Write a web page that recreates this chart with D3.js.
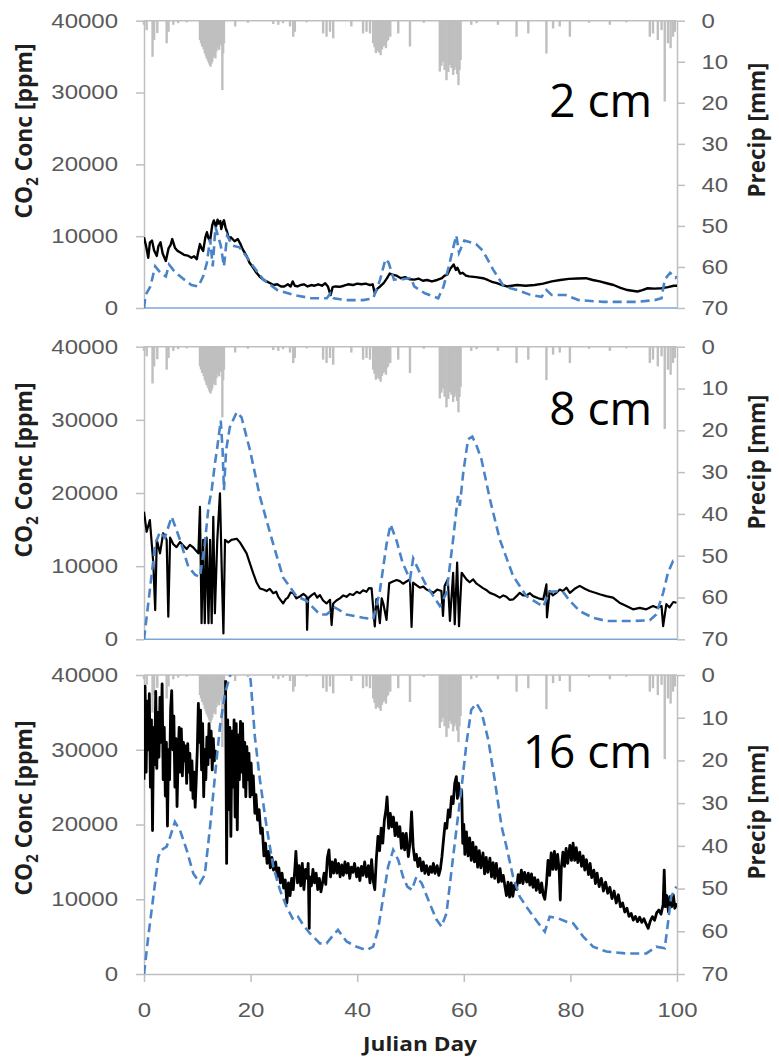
<!DOCTYPE html>
<html>
<head>
<meta charset="utf-8">
<script src="https://cdnjs.cloudflare.com/ajax/libs/d3/7.8.5/d3.min.js"></script>
<style>
body { margin: 0; background: #fff; }
svg { display: block; font-family: "Open Sans", sans-serif; }
.axis path, .axis line { stroke: #bfbfbf; stroke-width: 1.5; }
.axis .tick text { fill: #595959; font-size: 20px; }
.title { fill: #1f1f1f; font-size: 20px; font-weight: bold; }
.depth { fill: #000; font-size: 46px; }
</style>
</head>
<body>
<svg id="chart" width="779" height="1058"></svg>
<script>
// ---- data ----
const co2Ticks = [0, 10000, 20000, 30000, 40000];
const precipTicks = [0, 10, 20, 30, 40, 50, 60, 70];
const dayTicks = [0, 20, 40, 60, 80, 100];
const depthLabels = ['2 cm', '8 cm', '16 cm'];

// [julian day, precip mm]
const precip = [[0.0,1.0],[0.5,2.3],[1.6,8.8],[1.9,4.7],[2.5,3.0],[4.25,5.5],[4.6,2.7],[5.5,1.0],[6.4,0.6],[8.0,0.4],
  [10.5,4.7],[10.7,5.5],[10.9,6.3],[11.2,7.0],[11.4,7.9],[11.6,8.5],[11.75,9.2],[12.0,9.8],[12.2,10.4],[12.35,10.8],[12.5,11.2],
  [12.65,10.5],[12.8,10.0],[12.95,9.0],[13.1,7.9],[13.25,8.5],[13.4,9.2],[13.6,7.5],[13.75,5.5],[13.9,6.5],[14.1,7.1],[14.4,6.0],
  [14.7,16.9],[14.85,8.0],[15.0,5.5],[17.1,1.4],[19.5,0.5],[24.25,0.8],[25.2,1.0],[26.1,0.6],[27.4,1.4],[28.0,3.9],[28.3,2.7],
  [30.5,0.4],[33.6,3.1],[34.25,3.9],[34.9,2.7],[35.5,4.3],[38.9,1.4],[41.1,3.1],[41.75,2.7],[42.4,3.1],[43.0,5.5],[43.25,6.5],
  [43.5,7.9],[43.7,7.5],[43.9,7.1],[44.15,7.8],[44.4,8.4],[44.65,7.0],[44.9,6.3],[45.15,6.0],[45.4,6.7],[45.6,5.0],[45.8,4.7],
  [46.2,3.9],[47.7,3.1],[49.9,6.3],[52.5,0.5],[55.5,12.4],[55.8,11.0],[56.1,10.0],[56.4,12.0],[56.75,14.5],[57.1,12.5],[57.4,10.8],
  [57.7,11.5],[58.0,13.2],[58.25,12.0],[58.5,11.2],[58.75,13.0],[59.0,15.7],[59.2,12.0],[59.4,9.6],[61.4,1.0],[62.4,0.6],[66.4,1.0],
  [69.9,3.9],[72.1,3.1],[75.5,8.0],[76.75,1.9],[78.0,1.4],[79.9,3.9],[83.5,0.5],[87.4,1.0],[90.5,0.4],[94.9,3.9],[95.5,3.1],
  [96.4,4.7],[97.1,2.3],[97.7,19.7],[98.3,5.5],[98.8,6.7],[99.25,3.9],[99.6,2.7]];

// [julian day, CO2 ppm]  observed (black) and modelled (blue dashed)
const obs2 = [[0,9860],[0.4,8600],[0.8,7000],[1.1,9100],[1.5,9400],[1.9,8000],[2.4,7250],[2.7,8600],[3.1,9150],[3.5,7600],
  [4.1,6550],[4.6,8300],[5.0,8800],[5.3,9600],[5.8,8400],[6.3,7950],[6.9,7700],[7.5,7400],[8.2,7300],[8.9,7000],[9.4,7200],
  [9.9,6800],[10.2,7900],[10.5,8900],[10.8,8300],[11.1,7950],[11.5,9800],[11.8,10550],[12.1,9700],[12.4,9400],[12.8,11500],
  [13.1,12200],[13.5,11300],[13.8,12300],[14.0,11750],[14.3,12100],[14.5,11000],[14.8,11900],[15.0,12200],[15.3,11200],
  [15.6,10550],[16.0,9500],[16.3,9850],[17.0,9300],[17.6,9600],[18.1,8900],[18.5,8200],[19.2,7300],[19.8,6300],[20.4,5700],
  [21.1,4900],[21.8,4300],[22.4,3950],[23.0,3700],[23.7,3450],[24.3,3200],[25.0,3300],[25.7,3000],[26.3,3000],[27.0,3300],
  [27.5,3000],[27.9,3700],[28.3,3100],[28.8,3000],[29.4,3200],[30.0,3300],[30.7,3000],[31.4,3200],[32.0,3100],[32.7,3300],
  [33.4,3100],[34.0,3450],[34.5,3000],[35.0,1800],[35.4,2900],[35.9,3000],[36.7,2950],[37.5,3100],[38.3,3300],[39.2,3200],
  [40.0,3400],[40.8,3300],[41.6,3400],[42.4,3200],[42.9,3300],[43.3,2050],[43.8,2700],[44.3,3000],[45.0,3500],[45.6,4150],
  [46.1,4800],[46.6,4650],[47.4,4500],[48.2,4150],[49.0,4300],[49.8,4000],[50.7,3950],[51.5,4100],[52.3,3800],[53.1,3900],
  [54.0,3700],[55.0,3900],[55.9,4150],[56.4,4500],[56.9,4650],[57.5,5500],[58.1,6050],[58.5,5300],[58.8,5600],[59.3,4800],
  [59.8,4900],[60.4,4500],[61.0,4400],[62.3,4300],[63.6,4150],[64.5,3900],[65.3,3650],[66.2,3450],[67.2,3200],[68.1,3000],
  [69.0,3100],[70.0,3200],[71.6,3100],[73.3,3200],[74.9,3400],[76.5,3700],[78.1,3900],[79.7,4050],[81.3,4100],[82.9,4150],
  [84.2,3900],[85.5,3700],[86.8,3450],[88.1,3200],[89.4,2800],[90.7,2500],[91.6,2400],[92.6,2300],[93.5,2500],[94.5,2750],
  [95.8,2700],[97.1,2750],[98.3,2900],[99.4,3100],[100,3100]];
const mod2 = [[0,0],[0.3,1800],[1.2,3000],[2.1,5800],[3.1,4900],[4.1,4400],[4.7,6050],[5.7,5100],[7.3,4100],[8.9,3200],
  [10.2,3000],[11.1,4400],[11.8,6300],[12.4,9600],[12.9,5800],[13.4,11300],[14.4,8700],[15.0,5800],[15.6,10100],[16.6,8700],
  [17.9,8450],[19.2,7200],[20.5,5800],[22.4,3950],[25.0,2500],[28.2,1800],[31.4,1350],[34.3,1350],[35.0,2050],[35.6,1350],
  [37.9,1100],[41.1,1100],[43.0,1350],[44.3,3950],[45.3,6800],[45.9,6300],[46.9,3950],[48.5,4000],[50.1,4200],[50.7,3000],
  [52.7,2050],[55.2,1350],[56.2,3000],[57.2,5800],[58.1,8650],[58.6,10100],[59.1,7700],[60.1,9400],[62.3,8900],[63.6,7950],
  [65.5,5350],[67.5,3000],[70.0,2500],[72.6,1800],[74.6,1550],[75.5,2500],[76.5,1800],[79.1,1800],[81.6,1100],[86.2,850],
  [92.6,850],[95.8,1100],[97.1,1350],[97.7,3950],[98.7,4900],[99.7,4200],[100,4400]];

const obs8 = [[0,17450],[0.5,14700],[1.1,16300],[1.75,10400],[2.1,4000],[2.4,13600],[3.0,11750],[3.6,14500],[4.25,13600],
  [4.56,3100],[4.9,13900],[5.5,13000],[6.1,12600],[6.75,13300],[7.4,12800],[8.0,12350],[8.6,12900],[9.25,12550],[10.2,11750],
  [10.5,18100],[10.8,2200],[11.1,13600],[11.4,2200],[11.75,13900],[12.1,2200],[12.4,13600],[12.7,2200],[13.0,16750],[13.3,3550],
  [13.75,13600],[14.25,19950],[14.6,9000],[14.9,800],[15.2,13600],[15.8,13250],[16.4,13600],[17.4,13750],[18.0,13250],
  [19.25,11750],[19.9,10300],[20.5,9000],[21.1,7800],[21.75,6950],[22.4,6800],[23.0,6600],[23.6,6900],[24.25,6300],[24.8,6500],
  [25.2,5800],[25.7,5300],[26.1,4900],[26.6,5500],[27.0,5700],[27.5,6400],[28.0,6300],[28.6,5600],[29.25,5850],[29.9,6200],
  [30.5,5850],[30.6,1300],[30.8,5600],[31.4,6000],[32.0,6300],[32.5,5700],[33.0,6050],[33.6,5300],[34.25,4900],[34.9,5400],
  [35.2,1950],[35.5,4900],[36.1,5300],[36.75,5600],[37.4,6000],[38.0,5800],[38.6,6200],[39.25,6050],[39.9,6500],[40.5,6300],
  [41.1,6700],[41.75,6500],[42.2,7000],[42.7,6950],[43.3,1750],[43.6,5500],[43.9,4450],[44.25,2200],[44.6,5600],[44.9,4900],
  [45.5,2650],[46.0,7650],[46.7,7900],[47.4,8100],[48.0,7950],[48.6,7600],[49.25,7900],[49.9,8200],[50.2,1700],[50.5,7750],
  [51.1,7400],[51.75,7050],[52.4,7200],[53.0,6800],[53.6,6600],[54.3,6350],[55.0,6800],[55.8,6600],[56.1,3200],[56.4,7300],
  [57.0,8200],[57.4,2500],[58.0,9100],[58.3,2050],[58.75,10500],[59.1,1800],[59.6,9100],[60.5,8200],[61.1,7800],[61.75,8200],
  [62.4,7600],[63.0,7300],[63.6,7000],[64.3,6700],[64.9,6350],[65.8,6100],[66.75,5700],[67.4,6000],[68.0,5800],[68.6,5400],
  [69.25,5450],[69.9,5900],[70.5,6350],[71.1,6000],[71.75,6000],[72.4,6300],[73.0,5900],[74.0,5600],[74.9,5450],[75.5,7500],
  [75.6,3000],[76.1,6600],[76.7,6000],[77.3,6300],[78.0,6800],[78.6,6600],[79.25,7050],[79.9,6350],[80.8,6900],[81.75,7300],
  [82.7,6900],[83.6,6600],[84.5,6400],[85.5,6150],[86.7,5900],[88.0,5700],[89.2,5000],[90.5,4550],[91.75,4100],[93.0,4300],
  [94.25,4100],[95.5,4550],[96.3,4300],[97.1,4550],[97.4,1800],[98.0,4800],[98.6,4350],[99.3,5100],[99.9,5000]];
const mod8 = [[0,0],[1.1,6750],[2.1,13000],[3.0,14700],[3.9,13900],[5.2,16750],[6.75,13600],[8.3,9950],[9.6,8800],[10.5,8550],
  [11.4,13000],[12.1,18100],[12.7,20400],[13.3,24000],[13.75,26250],[14.4,29900],[14.75,25800],[15.0,20400],[15.4,25800],
  [16.1,29000],[17.4,31050],[18.3,30350],[19.9,25800],[21.75,19500],[24.25,13000],[26.1,8450],[28.6,5900],[30.5,5250],
  [33.0,3400],[34.25,3400],[35.8,4350],[38.0,3400],[41.1,2950],[43.0,2750],[44.25,6600],[45.5,13000],[46.25,15700],[47.4,13450],
  [48.5,10500],[49.9,8200],[50.5,11050],[51.75,9100],[53.0,7300],[54.3,5900],[55.5,4550],[56.75,6350],[58.0,13650],[58.9,19600],
  [59.25,18250],[59.9,22800],[60.8,27350],[61.6,27700],[62.4,26450],[63.3,24650],[64.9,19150],[66.75,13650],[69.25,8650],
  [71.75,5900],[74.9,4450],[76.1,6500],[78.5,6600],[79.9,5250],[81.75,3850],[84.25,2950],[86.75,2500],[91.75,2500],[94.9,2600],
  [96.1,3400],[97.4,6350],[98.3,9100],[99.25,10700],[100,10500]];

const obs16 = [[0,26000],[0.2,38500],[0.4,27000],[0.6,36500],[0.8,30000],[1.0,37500],[1.2,25000],[1.4,34000],[1.6,19200],
  [1.8,33000],[2.0,28000],[2.2,37800],[2.4,27500],[2.6,35000],[2.8,29000],[3.0,37000],[3.2,31000],[3.4,38800],[3.6,26000],
  [3.8,33000],[4.0,23800],[4.2,31000],[4.4,19800],[4.6,30000],[4.8,26000],[5.0,35500],[5.2,37900],[5.4,30000],[5.6,34500],
  [5.8,25000],[6.0,31500],[6.2,22400],[6.4,29000],[6.6,33000],[6.8,27000],[7.0,32800],[7.2,26500],[7.4,31000],[7.6,28500],
  [7.8,30500],[8.0,25500],[8.2,30800],[8.4,27000],[8.6,29500],[8.8,24600],[9.0,28500],[9.2,23500],[9.4,27000],[9.6,22300],
  [9.8,26000],[10.0,30000],[10.2,36200],[10.4,31000],[10.6,35300],[10.8,27300],[11.0,33500],[11.2,23700],[11.4,30000],
  [11.6,26000],[11.8,31700],[12.0,28000],[12.2,33500],[12.4,29000],[12.6,32500],[12.8,27300],[13.0,31500],[13.2,28500],
  [13.4,30000],[14.3,null],
  [15.3,39300],[15.5,14800],[15.7,34000],[15.9,22000],[16.1,33000],[16.3,18400],[16.5,32500],[16.7,25000],[16.9,34000],
  [17.1,21000],[17.3,33500],[17.5,19300],[17.7,32000],[17.9,26000],[18.1,33800],[18.3,27000],[18.5,33500],[18.7,25000],
  [18.9,31000],[19.1,23700],[19.3,30400],[19.5,26000],[19.7,29500],[19.9,23700],[20.1,28200],[20.3,24000],[20.5,26500],
  [20.8,21500],[21.0,24000],[21.3,20600],[21.6,22000],[21.9,18800],[22.2,19500],[22.5,15800],[22.8,17500],[23.1,14800],
  [23.4,16400],[23.7,14200],[24.0,15600],[24.3,13900],[24.7,15000],[25.0,13000],[25.3,14200],[25.6,12200],[25.9,13500],
  [26.2,11500],[26.5,12600],[26.8,9500],[27.1,12200],[27.4,10500],[27.7,12800],[28.0,11300],[28.3,14000],[28.5,16400],
  [28.8,12200],[29.1,14500],[29.4,11800],[29.7,14800],[30.0,11300],[30.3,14000],[30.6,12800],[30.8,14800],[31.0,6100],
  [31.1,13000],[31.4,11800],[31.7,14000],[32.0,12200],[32.3,13500],[32.6,11300],[32.9,12800],[33.2,11000],[33.5,12200],
  [33.8,13500],[34.1,12000],[34.4,15500],[34.7,16600],[35.0,13000],[35.3,15000],[35.6,13500],[35.9,15300],[36.2,13500],
  [36.5,14800],[36.8,13000],[37.1,14600],[37.4,13200],[37.7,15000],[38.0,13500],[38.3,14800],[38.6,12800],[38.9,14300],
  [39.2,13600],[39.5,14800],[39.9,13000],[40.2,14200],[40.5,12500],[40.8,14400],[41.1,13200],[41.4,15000],[41.75,13000],
  [42.1,14500],[42.4,12200],[42.7,15300],[43.0,12500],[43.3,11300],[43.6,15500],[43.9,18400],[44.2,16500],[44.5,19500],
  [44.8,17500],[45.1,20600],[45.4,22000],[45.6,23700],[45.9,19500],[46.2,21500],[46.5,19700],[46.8,21000],[47.1,18500],
  [47.4,20200],[47.7,18400],[48.0,19700],[48.3,16800],[48.6,18800],[48.9,16600],[49.2,18800],[49.6,15700],[49.9,17500],
  [50.2,21700],[50.5,17000],[50.8,15250],[51.1,16000],[51.4,14360],[51.75,15500],[52.1,13800],[52.4,15000],[52.7,13470],
  [53.0,14500],[53.4,13300],[53.7,14360],[54.0,13600],[54.3,14800],[54.6,13470],[55.0,14500],[55.3,13200],[55.6,14000],
  [55.9,15700],[56.2,18000],[56.5,20160],[56.8,19500],[57.1,21950],[57.4,21000],[57.7,23740],[58.0,22800],[58.3,25500],
  [58.6,26410],[58.8,23500],[59.0,25520],[59.3,24000],[59.6,24630],[59.8,17490],[60.0,20000],[60.2,16000],[60.5,19000],
  [60.8,15800],[61.1,18200],[61.4,15200],[61.7,17600],[62.0,15000],[62.3,17000],[62.6,14300],[62.9,16500],[63.2,14200],
  [63.6,16200],[63.9,13400],[64.2,15600],[64.5,13600],[64.9,15500],[65.2,13000],[65.5,14900],[65.8,12800],[66.1,14800],
  [66.5,12300],[66.8,14100],[67.1,12400],[67.4,13200],[67.7,11800],[68.0,10500],[68.3,12300],[68.6,10300],[68.9,12200],
  [69.2,10400],[69.5,11900],[69.9,11300],[70.2,13300],[70.5,12200],[70.8,13900],[71.1,12100],[71.4,13600],[71.8,12300],
  [72.1,13500],[72.4,11900],[72.7,13400],[73.0,11600],[73.3,12900],[73.6,11200],[73.9,12600],[74.3,10900],[74.6,12200],
  [74.9,10600],[75.2,10000],[75.5,12000],[75.8,15200],[76.1,13200],[76.4,16200],[76.7,14000],[77.0,16400],[77.3,14000],
  [77.6,16000],[77.9,13800],[78.1,9900],[78.3,14200],[78.6,16300],[78.9,14400],[79.2,16800],[79.5,14800],[79.9,17200],
  [80.2,15200],[80.5,17500],[80.8,15200],[81.1,16900],[81.4,14900],[81.75,16300],[82.1,14400],[82.4,15800],[82.7,13900],
  [83.0,15300],[83.4,13300],[83.7,14800],[84.0,12900],[84.4,13900],[84.7,12100],[85.0,13500],[85.4,11700],[85.8,12800],
  [86.2,11100],[86.6,12300],[87.0,10800],[87.4,11600],[87.8,10100],[88.2,11100],[88.6,9500],[89.0,10600],[89.4,9000],
  [89.8,9500],[90.2,8300],[90.6,8800],[91.0,7700],[91.4,8100],[91.8,7200],[92.2,7700],[92.6,7000],[93.0,7600],[93.4,6900],
  [93.8,7400],[94.2,6700],[94.6,6110],[95.0,7100],[95.4,7670],[95.8,7200],[96.2,8200],[96.6,8560],[97.0,8000],[97.4,9300],
  [97.6,13900],[97.8,9000],[98.1,10500],[98.4,8300],[98.7,10340],[99.0,9000],[99.3,10600],[99.6,8800],[100,9450]];
const mod16 = [[0,0],[0.8,5000],[1.75,10350],[2.7,15700],[3.3,16600],[4.25,17050],[4.9,18350],[5.8,20350],[6.75,19250],
  [8.0,16600],[9.25,13450],[10.5,12150],[11.4,13250],[12.4,19700],[13.3,26400],[14.25,33100],[15.2,37550],[16.1,39800],
  [17.0,41500],[18.0,42000],[19.0,41500],[20.0,39350],[20.8,31750],[21.75,25950],[23.0,19700],[24.25,14350],[25.5,11250],
  [26.75,9000],[28.0,7250],[28.9,7650],[29.9,6550],[31.1,5450],[33.0,4100],[34.25,4100],[35.5,5200],[36.4,5900],[38.0,4350],
  [39.9,3650],[41.75,3200],[43.0,3650],[43.9,5900],[44.9,10350],[45.8,14350],[46.75,16600],[47.7,15250],[48.6,13000],
  [49.4,11700],[50.25,11250],[51.1,13000],[52.1,12150],[53.6,9450],[54.9,7250],[55.8,6350],[56.75,8100],[57.7,13900],
  [58.6,19250],[59.6,25050],[60.5,30850],[61.4,35350],[62.4,36200],[63.3,35100],[64.6,31300],[65.8,25950],[67.1,19700],
  [68.0,17050],[69.25,13000],[70.5,10350],[71.75,9000],[73.3,7450],[75.2,5650],[76.1,7650],[77.7,7450],[79.25,7000],
  [80.5,6800],[82.4,5000],[84.25,3650],[86.75,3000],[90.5,2750],[94.25,2750],[96.1,3650],[97.7,3450],[98.3,6800],
  [98.9,10350],[99.9,11700]];

// ---- layout ----
const svg = d3.select('#chart');
const x = d3.scaleLinear().domain([0, 100]).range([144, 677]);
const stretch = 1.2; // the source picture is widened horizontally

const panels = [
  { obs: obs2,  mod: mod2,  top: 20.7,  bottom: 308,   titleY: 131, precipY: 130, labelY: 117, lineW: 2.4 },
  { obs: obs8,  mod: mod8,  top: 346.7, bottom: 639.3, titleY: 470, precipY: 462, labelY: 425, lineW: 2.2 },
  { obs: obs16, mod: mod16, top: 675,   bottom: 974,   titleY: 808, precipY: 812, labelY: 768, lineW: 2.8 }
];

panels.forEach((p, i) => {
  const y = d3.scaleLinear().domain([0, 40000]).range([p.bottom, p.top]);
  const yp = d3.scaleLinear().domain([0, 70]).range([p.top, p.bottom]);
  const g = svg.append('g');

  const clipId = 'clip' + i;
  g.append('clipPath').attr('id', clipId)
    .append('rect')
    .attr('x', x(0)).attr('y', p.top)
    .attr('width', x(100) - x(0)).attr('height', p.bottom - p.top);

  // precip bars hanging from the top
  const bw = x(0.45) - x(0);
  g.append('g').selectAll('rect')
    .data(precip)
    .join('rect')
    .attr('x', d => x(d[0]) - bw / 2)
    .attr('y', yp(0))
    .attr('width', bw)
    .attr('height', d => yp(d[1]) - yp(0))
    .attr('fill', '#bfbfbf');

  // top line (precip zero)
  g.append('line')
    .attr('x1', x(0)).attr('x2', x(100))
    .attr('y1', p.top).attr('y2', p.top)
    .attr('stroke', '#bfbfbf').attr('stroke-width', 1.5);

  // left axis
  const left = g.append('g').attr('class', 'axis')
    .attr('transform', `translate(${x(0)},0)`)
    .call(d3.axisLeft(y).tickValues(co2Ticks).tickSize(8).tickSizeOuter(0)
      .tickPadding(26 / stretch - 8).tickFormat(d3.format('d')));
  left.selectAll('.tick text').attr('transform', `scale(${stretch},1)`);

  // right axis
  const right = g.append('g').attr('class', 'axis')
    .attr('transform', `translate(${x(100)},0)`)
    .call(d3.axisRight(yp).tickValues(precipTicks).tickSize(8).tickSizeOuter(0)
      .tickPadding(24.5 / stretch - 8));
  right.selectAll('.tick text').attr('transform', `scale(${stretch},1)`);

  // bottom
  if (i < 2) {
    g.append('line')
      .attr('x1', x(0)).attr('x2', x(100))
      .attr('y1', y(0)).attr('y2', y(0))
      .attr('stroke', '#7aa6dc').attr('stroke-width', 1.5);
  } else {
    const bottom = g.append('g').attr('class', 'axis')
      .attr('transform', `translate(0,${y(0)})`)
      .call(d3.axisBottom(x).tickValues(dayTicks).tickSize(8).tickSizeOuter(0).tickPadding(21));
    bottom.selectAll('.tick text').attr('transform', `scale(${stretch},1)`);
  }

  const line = d3.line()
    .defined(d => d[1] !== null)
    .x(d => x(d[0]))
    .y(d => y(d[1]));

  const plot = g.append('g').attr('clip-path', `url(#${clipId})`);
  plot.append('path')
    .datum(p.obs)
    .attr('d', line)
    .attr('fill', 'none')
    .attr('stroke', '#000')
    .attr('stroke-width', p.lineW)
    .attr('stroke-linejoin', 'round');
  plot.append('path')
    .datum(p.mod)
    .attr('d', line)
    .attr('fill', 'none')
    .attr('stroke', '#4a84c8')
    .attr('stroke-width', 2.6)
    .attr('stroke-dasharray', '9,5');

  // titles
  const t1 = g.append('text').attr('class', 'title')
    .attr('transform', `translate(24,${p.titleY}) scale(${stretch},1) rotate(-90)`)
    .attr('text-anchor', 'middle').attr('dy', '0.35em')
    .attr('textLength', 175).attr('lengthAdjust', 'spacingAndGlyphs');
  t1.append('tspan').text('CO');
  t1.append('tspan').attr('font-size', '13px').attr('dy', '5').text('2');
  t1.append('tspan').attr('dy', '-5').text(' Conc [ppm]');

  g.append('text').attr('class', 'title')
    .attr('transform', `translate(757,${p.precipY}) scale(${stretch},1) rotate(-90)`)
    .attr('text-anchor', 'middle').attr('dy', '0.35em')
    .attr('textLength', 135).attr('lengthAdjust', 'spacingAndGlyphs')
    .text('Precip [mm]');

  g.append('text').attr('class', 'depth')
    .attr('x', 652).attr('y', p.labelY)
    .attr('text-anchor', 'end')
    .text(depthLabels[i]);
});

svg.append('text').attr('class', 'title')
  .attr('x', 420).attr('y', 1051)
  .attr('text-anchor', 'middle')
  .attr('textLength', 114).attr('lengthAdjust', 'spacingAndGlyphs')
  .text('Julian Day');
</script>
</body>
</html>
